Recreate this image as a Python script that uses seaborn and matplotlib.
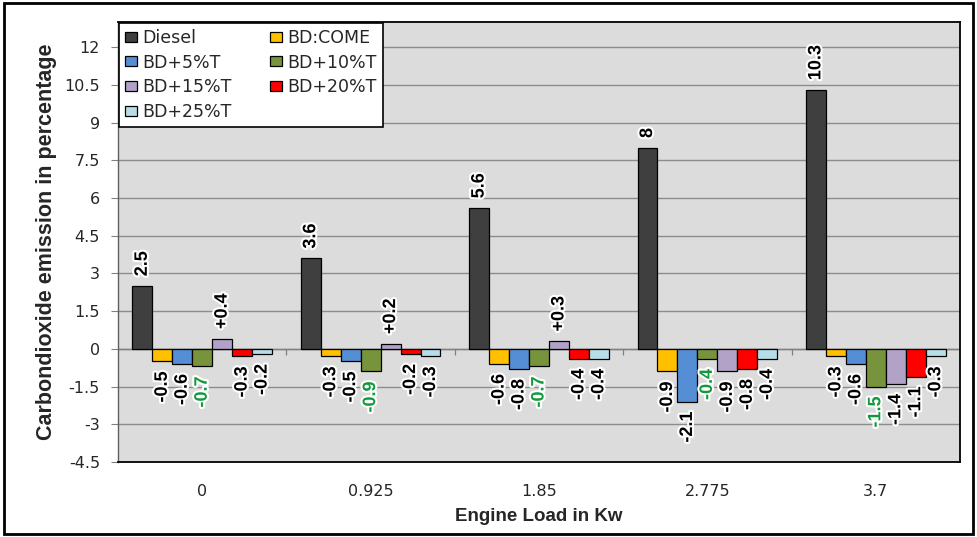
import matplotlib
matplotlib.use("Agg")
import matplotlib.pyplot as plt
import matplotlib.patheffects as pe
import numpy as np
import pandas as pd
import seaborn as sns
from matplotlib.patches import Rectangle

# Engine loads (kW) and fuel blends
loads = ["0", "0.925", "1.85", "2.775", "3.7"]
fuels = ["Diesel", "BD:COME", "BD+5%T", "BD+10%T", "BD+15%T", "BD+20%T", "BD+25%T"]

# CO2 emission (%) for diesel, and change relative to diesel for each blend
diesel = [2.5, 3.6, 5.6, 8.0, 10.3]
bd_come = [-0.5, -0.3, -0.6, -0.9, -0.3]
bd_5t = [-0.6, -0.5, -0.8, -2.1, -0.6]
bd_10t = [-0.7, -0.9, -0.7, -0.4, -1.5]
bd_15t = [0.4, 0.2, 0.3, -0.9, -1.4]
bd_20t = [-0.3, -0.2, -0.4, -0.8, -1.1]
bd_25t = [-0.2, -0.3, -0.4, -0.4, -0.3]

series = [diesel, bd_come, bd_5t, bd_10t, bd_15t, bd_20t, bd_25t]
colors = ["#3f3f3f", "#ffc000", "#558ed5", "#77933c", "#b3a2c7", "#ff0000", "#b7dee8"]

df = pd.DataFrame(
    [(ld, f, v) for f, vals in zip(fuels, series) for ld, v in zip(loads, vals)],
    columns=["load", "fuel", "value"],
)

sns.set_style("white")
plt.rcParams["font.family"] = ["Liberation Sans", "DejaVu Sans"]

fig = plt.figure(figsize=(9.77, 5.37), dpi=100)
ax = fig.add_axes([0.1208, 0.1397, 0.8618, 0.8193])
ax.set_facecolor("#dcdcdc")

sns.barplot(
    data=df, x="load", y="value", hue="fuel",
    order=loads, hue_order=fuels, palette=colors, saturation=1,
    edgecolor="black", linewidth=0.9, width=0.83,
    errorbar=None, ax=ax, zorder=3,
)

# value labels, rotated, above positive bars and below negative ones
halo = [pe.withStroke(linewidth=3, foreground="white")]
for fuel, cont in zip(fuels, ax.containers):
    vals = df[df.fuel == fuel].set_index("load").loc[loads, "value"].values
    if fuel == "Diesel":
        labels = [f"{v:g}" for v in vals]
    else:
        labels = [f"{v:+g}" if v > 0 else f"{v:g}" for v in vals]
    col = "#119a3c" if fuel == "BD+10%T" else "black"
    texts = ax.bar_label(cont, labels=labels, rotation=90, padding=7,
                         fontsize=13, color=col, fontweight="bold", zorder=5)
    for t in texts:
        t.set_path_effects(halo)

# axes limits, ticks and grid
ax.set_ylim(-4.5, 13.0)
yt = np.arange(-4.5, 12.01, 1.5)
ax.set_yticks(yt)
ax.set_yticklabels([f"{t:g}" for t in yt], fontfamily="DejaVu Sans", fontsize=11.5)
ax.set_xlim(-0.5, len(loads) - 0.5)
ax.tick_params(axis="y", length=5, width=0.8, color="#808080", pad=8, direction="out", left=True)
ax.tick_params(axis="x", length=0, pad=16)
for lbl in ax.get_xticklabels():
    lbl.set_fontfamily("DejaVu Sans")
    lbl.set_fontsize(11.5)
ax.yaxis.grid(True, color="#8c8c8c", linewidth=1.0, zorder=0)
ax.set_axisbelow(True)
ax.axhline(0, color="#7f7f7f", linewidth=1.0, zorder=2)

# short category separators on the zero line
bounds = np.arange(len(loads) - 1) + 0.5
ax.vlines(bounds, -0.25, 0, color="#7f7f7f", linewidth=0.9, zorder=2)

for side in ["top", "right", "bottom"]:
    ax.spines[side].set_color("black")
    ax.spines[side].set_linewidth(1.3)
ax.spines["left"].set_color("#606060")
ax.spines["left"].set_linewidth(1.0)

ax.set_xlabel("Engine Load in Kw", fontsize=13.5, fontweight="bold", labelpad=6)
ax.set_ylabel("Carbondioxide emission in percentage", fontsize=15.5, fontweight="bold", labelpad=5)

# legend filled row by row: two columns
handles, names = ax.get_legend_handles_labels()
order = [0, 2, 4, 6, 1, 3, 5]
leg = ax.legend(
    [handles[i] for i in order], [names[i] for i in order],
    loc="upper left", bbox_to_anchor=(0.0, 1.0), ncol=2, frameon=True,
    fancybox=False, edgecolor="black", facecolor="white", framealpha=1,
    prop={"family": "DejaVu Sans", "size": 12.5},
    handlelength=0.7, handleheight=0.5, handletextpad=0.3,
    columnspacing=2.2, labelspacing=0.38, borderpad=0.35, borderaxespad=0.05,
)
leg.get_frame().set_linewidth(1.2)
leg.set_zorder(10)

# outer frame around the whole figure
fig.patches.append(Rectangle((0.004, 0.006), 0.992, 0.988, transform=fig.transFigure,
                             fill=False, edgecolor="black", linewidth=2.0))

fig.savefig("out.png", dpi=100)
